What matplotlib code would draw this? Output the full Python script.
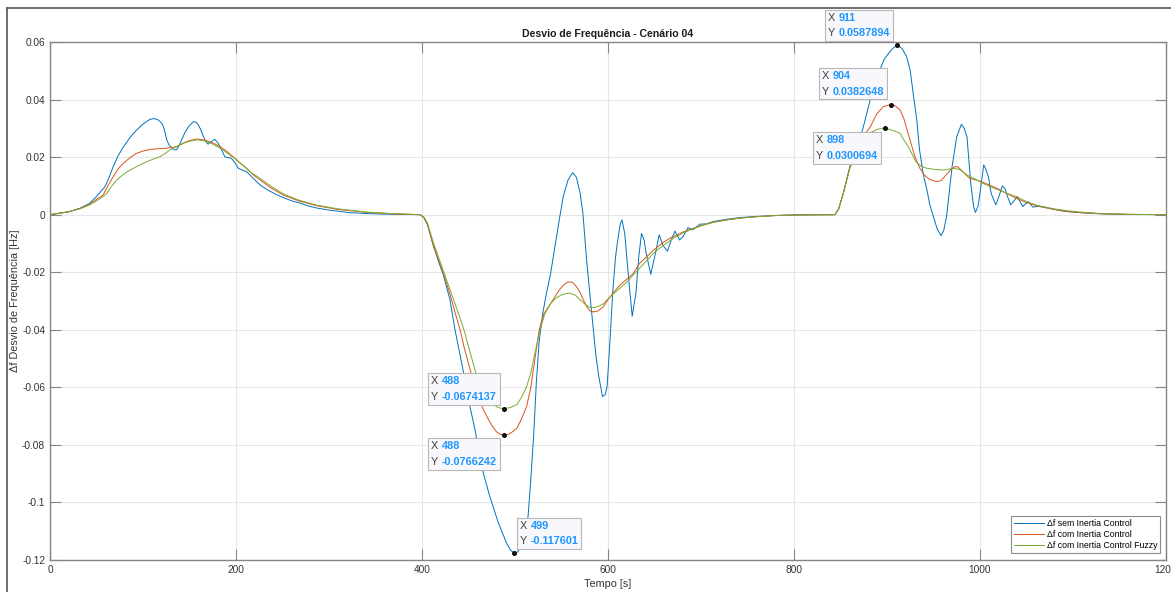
import matplotlib
matplotlib.use("Agg")
import matplotlib.pyplot as plt
from matplotlib.lines import Line2D
from matplotlib.offsetbox import TextArea, HPacker, VPacker, AnnotationBbox
from matplotlib.ticker import FuncFormatter

plt.rcParams['font.family'] = ['Liberation Sans', 'DejaVu Sans']
plt.rcParams['axes.unicode_minus'] = False

# Δf sem Inertia Control (blue)
t_sem = [0, 20, 32, 42, 50, 55, 59, 63, 68, 73, 79, 86, 93, 100, 107.5, 112, 116.5, 120, 122, 124,
         125.5, 128, 131, 134, 136, 138.5, 141.5, 145, 149, 154, 157, 159.5, 162, 165, 168, 170,
         173, 177, 180, 183, 186, 188, 192, 195, 199, 202.5, 207, 211.5, 215, 218.6, 226, 233,
         242, 251, 260, 269, 278, 287, 300, 322, 340, 358, 380, 398,
         402, 406, 412, 418, 423, 430, 435.5, 442.7, 447, 451.6, 457, 461, 466, 473, 482, 491,
         495, 499, 503, 507, 511, 514, 517, 520, 523, 526, 530, 534, 538, 543, 548, 552, 557,
         562, 566, 570, 573, 577, 580, 584, 587, 590, 594, 597, 599, 602, 605, 608, 610, 613, 615,
         618, 622, 626, 630, 633, 636, 639, 641, 646, 651, 655, 659, 664, 668, 672, 677, 681, 686,
         691, 699, 706, 713, 728, 742, 760, 780, 800, 844,
         848, 853, 860, 866, 874, 882, 887, 892, 897, 903, 907, 911, 916, 921, 925, 928, 932, 935,
         939, 943, 946, 950, 954, 958, 961, 964, 967, 970, 975, 980, 983, 986, 990, 993, 995, 998,
         1000, 1004, 1006, 1009, 1012, 1017, 1020, 1024, 1027, 1029, 1033, 1037, 1040, 1043, 1046,
         1049, 1052, 1057, 1064, 1075, 1090, 1108, 1130, 1160, 1200]
df_sem = [0, 0.001, 0.0022, 0.0038, 0.0063, 0.0082, 0.0097, 0.0125, 0.0167, 0.0203, 0.0236,
          0.0268, 0.0294, 0.0315, 0.0331, 0.0334, 0.0329, 0.0318, 0.0306, 0.0282, 0.026, 0.0242,
          0.0231, 0.0226, 0.0225, 0.0238, 0.026, 0.0285, 0.0306, 0.0323, 0.0321, 0.0312, 0.0296,
          0.0271, 0.0252, 0.0245, 0.0252, 0.0262, 0.0252, 0.0236, 0.0215, 0.0201, 0.0198, 0.0196,
          0.018, 0.0161, 0.0155, 0.0149, 0.0138, 0.0126, 0.0103, 0.0088, 0.0072, 0.0059, 0.0048,
          0.004, 0.003, 0.0023, 0.0016, 0.0007, 0.0004, 0.0002, 0.0001, 0,
          -0.001, -0.0035, -0.0105, -0.0165, -0.021, -0.0295, -0.040, -0.0516, -0.059, -0.0667,
          -0.0748, -0.082, -0.0899, -0.098, -0.107, -0.1142, -0.1165, -0.1176, -0.1172, -0.115,
          -0.111, -0.105, -0.092, -0.077, -0.058, -0.044, -0.034, -0.027, -0.021, -0.011, -0.001,
          0.0065, 0.012, 0.0146, 0.013, 0.0075, 0.0005, -0.0157, -0.026, -0.039, -0.049, -0.056,
          -0.0632, -0.0625, -0.0598, -0.0446, -0.0273, -0.015, -0.0099, -0.0035, -0.0018, -0.0065,
          -0.0215, -0.0353, -0.0273, -0.015, -0.0065, -0.009, -0.0134, -0.0207, -0.0134, -0.007,
          -0.0106, -0.0127, -0.0088, -0.0057, -0.0088, -0.0075, -0.0045, -0.0053, -0.0033,
          -0.0032, -0.0024, -0.0016, -0.001, -0.0006, -0.0003, -0.0001, 0,
          0.002, 0.0074, 0.0165, 0.022, 0.0298, 0.040, 0.045, 0.050, 0.054, 0.0566, 0.058, 0.0588,
          0.0578, 0.055, 0.050, 0.0425, 0.033, 0.0225, 0.014, 0.0085, 0.0035, -0.0007, -0.005,
          -0.0073, -0.0055, -0.0007, 0.008, 0.0167, 0.0271, 0.0314, 0.030, 0.0271, 0.011, 0.003,
          0.0008, 0.003, 0.0075, 0.0173, 0.016, 0.0132, 0.0074, 0.0034, 0.006, 0.010, 0.009,
          0.0068, 0.0034, 0.005, 0.0063, 0.0045, 0.0028, 0.0038, 0.0045, 0.0026, 0.003, 0.0022,
          0.0012, 0.0007, 0.0003, 0.0001, 0]

# Δf com Inertia Control (red)
t_com = [0, 20, 32, 42, 50, 57, 63, 68, 73, 79, 86, 93, 100, 107.5, 116, 125.5, 136, 142, 147,
         152, 158, 163, 168.5, 176, 183, 190, 197, 204, 211.5, 218, 226, 238, 251, 268, 287,
         310, 340, 370, 398,
         402, 406, 412, 418, 423, 430, 436, 441, 446, 452, 456, 460.5, 465, 469.5, 475, 480, 484,
         488, 493, 497, 502, 507, 512.5, 517, 521.5, 526, 531, 538, 543, 548, 552, 557, 562, 566,
         570, 574, 577, 581, 584, 589, 595, 600, 606, 613, 620, 627, 634, 642, 649, 660, 667, 681,
         692, 703, 713, 728, 742, 760, 780, 800, 844,
         848, 853, 860, 866, 874, 882, 889, 896, 904, 909, 914, 918, 922, 926, 930, 935, 940, 946,
         953, 958, 962, 968, 973, 976, 980, 985, 989, 996, 1003, 1010, 1018, 1028, 1039, 1050,
         1064, 1080, 1093, 1108, 1130, 1160, 1200]
df_com = [0, 0.001, 0.0021, 0.0035, 0.0053, 0.0068, 0.0105, 0.0132, 0.0158, 0.0179, 0.0198,
          0.0213, 0.0221, 0.0227, 0.0229, 0.0231, 0.0236, 0.0246, 0.0254, 0.0259, 0.0263, 0.0261,
          0.0257, 0.0248, 0.0236, 0.022, 0.0201, 0.018, 0.0161, 0.014, 0.012, 0.0092, 0.0068,
          0.0047, 0.0031, 0.0018, 0.0008, 0.0003, 0,
          -0.001, -0.0035, -0.0105, -0.016, -0.0205, -0.0275, -0.0345, -0.040, -0.047, -0.054,
          -0.0588, -0.0632, -0.067, -0.070, -0.0732, -0.0754, -0.0763, -0.0766, -0.0763, -0.0755,
          -0.0742, -0.071, -0.0667, -0.060, -0.050, -0.040, -0.0345, -0.031, -0.0285, -0.026,
          -0.0245, -0.0234, -0.0235, -0.025, -0.027, -0.030, -0.032, -0.0335, -0.0338, -0.0335,
          -0.032, -0.0295, -0.027, -0.0244, -0.0225, -0.0205, -0.0169, -0.0145, -0.0123, -0.0095,
          -0.0081, -0.006, -0.0047, -0.0035, -0.0026, -0.0018, -0.0012, -0.0007, -0.0003, -0.0001,
          0,
          0.002, 0.0074, 0.0165, 0.0215, 0.027, 0.0305, 0.035, 0.0375, 0.0383, 0.0378, 0.0364,
          0.0335, 0.029, 0.0245, 0.0202, 0.0163, 0.0138, 0.0122, 0.0115, 0.0118, 0.0132, 0.0155,
          0.0167, 0.0166, 0.0155, 0.0138, 0.0126, 0.012, 0.0113, 0.0103, 0.0092, 0.0075, 0.0057,
          0.0042, 0.0028, 0.0018, 0.0011, 0.0007, 0.0003, 0.0001, 0]

# Δf com Inertia Control Fuzzy (green)
t_fuzzy = [0, 20, 32, 42, 50, 56, 61, 66, 71.7, 78, 86, 95, 104, 111, 118, 124, 129, 136, 143,
           150, 158, 165, 172, 179, 186, 193, 201, 208, 215, 226, 238, 251, 268, 287, 310, 340,
           370, 398,
           402, 406, 412, 418, 423, 430, 436, 441, 446, 451, 457, 463, 469.5, 475, 480, 484, 488,
           494, 498, 502, 507, 512.5, 517, 521.5, 527, 532, 538, 544, 550, 555, 559, 565, 570,
           575, 580, 585, 590, 595, 599, 606, 613, 620, 627, 638, 649, 660, 670, 681, 692, 703,
           713, 728, 742, 760, 780, 800, 844,
           848, 853, 860, 866, 874, 882, 890, 898, 906, 914, 918, 923, 931, 937, 943, 952, 961,
           968, 973, 979, 986, 994, 1003, 1012, 1022, 1030, 1039, 1050, 1064, 1080, 1093, 1108,
           1130, 1160, 1200]
df_fuzzy = [0, 0.001, 0.002, 0.0033, 0.0048, 0.006, 0.0074, 0.0098, 0.012, 0.0138, 0.0155, 0.017,
            0.0184, 0.0193, 0.0201, 0.0213, 0.0225, 0.0237, 0.0248, 0.0255, 0.026, 0.0257, 0.025,
            0.0238, 0.0225, 0.0208, 0.019, 0.017, 0.0149, 0.0126, 0.0098, 0.0072, 0.005, 0.0033,
            0.002, 0.0009, 0.0003, 0,
            -0.0008, -0.003, -0.0095, -0.015, -0.0195, -0.026, -0.0315, -0.036, -0.041, -0.047,
            -0.054, -0.0595, -0.0632, -0.0655, -0.0667, -0.0672, -0.0674, -0.0671, -0.0666, -0.066,
            -0.0635, -0.0598, -0.055, -0.048, -0.040, -0.0345, -0.031, -0.029, -0.0279, -0.0274,
            -0.0273, -0.028, -0.0296, -0.031, -0.0322, -0.0323, -0.0318, -0.031, -0.0296, -0.0275,
            -0.0255, -0.0235, -0.021, -0.0172, -0.0134, -0.0105, -0.0083, -0.0063, -0.0048,
            -0.0036, -0.0027, -0.0018, -0.0012, -0.0007, -0.0003, -0.0001, 0,
            0.002, 0.0074, 0.016, 0.021, 0.026, 0.0285, 0.0297, 0.0301, 0.0293, 0.0283, 0.026,
            0.0236, 0.0184, 0.0168, 0.0161, 0.0157, 0.0155, 0.0159, 0.0161, 0.0155, 0.0138,
            0.0125, 0.0109, 0.0096, 0.0083, 0.0073, 0.0063, 0.0045, 0.003, 0.002, 0.0014, 0.0009,
            0.0004, 0.0001, 0]

labels = ['Δf sem Inertia Control', 'Δf com Inertia Control', 'Δf com Inertia Control Fuzzy']
colors = ['#0072BD', '#D95319', '#77AC30']

# data tips: x, y, box alignment, offset (px)
tips_x = [911, 904, 898, 488, 488, 499]
tips_y = [0.0587894, 0.0382648, 0.0300694, -0.0674137, -0.0766242, -0.117601]
tips_align = [(1, 0), (1, 0), (1, 1), (1, 0), (1, 1), (0, 0)]
tips_off = [(-7, 7), (-7, 8), (-7, -7), (-7, 7), (-7, -6), (6, 7)]

fig = plt.figure(figsize=(11.71, 5.92), dpi=100)
ax = fig.add_axes([50 / 1171, 1 - 560 / 592, 1116 / 1171, 518 / 592])

ax.plot(t_sem, df_sem, color=colors[0], lw=0.7, label=labels[0])
ax.plot(t_com, df_com, color=colors[1], lw=0.7, label=labels[1])
ax.plot(t_fuzzy, df_fuzzy, color=colors[2], lw=0.7, label=labels[2])

ax.set_xlim(0, 1200)
ax.set_ylim(-0.12, 0.06)
ax.set_xticks(range(0, 1201, 200))
ax.set_yticks([0.06, 0.04, 0.02, 0, -0.02, -0.04, -0.06, -0.08, -0.1, -0.12])
ax.yaxis.set_major_formatter(FuncFormatter(lambda v, p: '%g' % round(v, 4)))
ax.grid(True, color='#e6e6e6', lw=0.8)
ax.set_axisbelow(True)
for s in ax.spines.values():
    s.set_color('#858585')
    s.set_linewidth(1.0)
ax.tick_params(direction='in', length=8, width=0.8, color='#858585', top=True, right=True,
               labelsize=7.3, labelcolor='#333333', pad=3.5)

ax.set_title('Desvio de Frequência - Cenário 04', fontsize=7.6, fontweight='bold', pad=3.5,
             color='#1a1a1a')
ax.set_xlabel('Tempo [s]', fontsize=7.8, color='#333333')
ax.set_ylabel('Δf Desvio de Frequência [Hz]', fontsize=7.8, color='#333333')
ax.xaxis.set_label_coords(0.5, -0.037)
ax.yaxis.set_label_coords(-0.027, 0.5)

leg = ax.legend(loc='lower right', bbox_to_anchor=(0.9946, 0.0135), borderaxespad=0,
                fontsize=6.3, handlelength=3.4, handletextpad=0.35, labelspacing=0.25,
                borderpad=0.3, fancybox=False, framealpha=1, edgecolor='#8c8c8c')
leg.get_frame().set_linewidth(0.8)

for x, y, al, off in zip(tips_x, tips_y, tips_align, tips_off):
    ax.plot(x, y, 'o', color='#111111', ms=2.6, zorder=5)
    rows = []
    for name, val in (('X', '%g' % x), ('Y', '%g' % y)):
        rows.append(HPacker(children=[
            TextArea(name, textprops=dict(color='#404040', fontsize=7.8)),
            TextArea(val, textprops=dict(color='#1E96FF', fontsize=7.8, fontweight='bold'))],
            pad=0, sep=2.5, align='baseline'))
    box = VPacker(children=rows, pad=0, sep=4, align='left')
    ab = AnnotationBbox(box, (x, y), xybox=off, xycoords='data', boxcoords='offset pixels',
                        box_alignment=al, frameon=True, pad=0.62, fontsize=7,
                        bboxprops=dict(boxstyle='square', fc='#F8F8FC', ec='#B8B8B8', lw=0.8),
                        zorder=6)
    ax.add_artist(ab)

# window frame edges
fig.add_artist(Line2D([7 / 1171, 7 / 1171], [0, 1 - 8 / 592], transform=fig.transFigure,
                      color='#555555', lw=1.2))
fig.add_artist(Line2D([7 / 1171, 1], [1 - 8 / 592, 1 - 8 / 592], transform=fig.transFigure,
                      color='#555555', lw=1.2))

fig.savefig('out.png', dpi=100)
